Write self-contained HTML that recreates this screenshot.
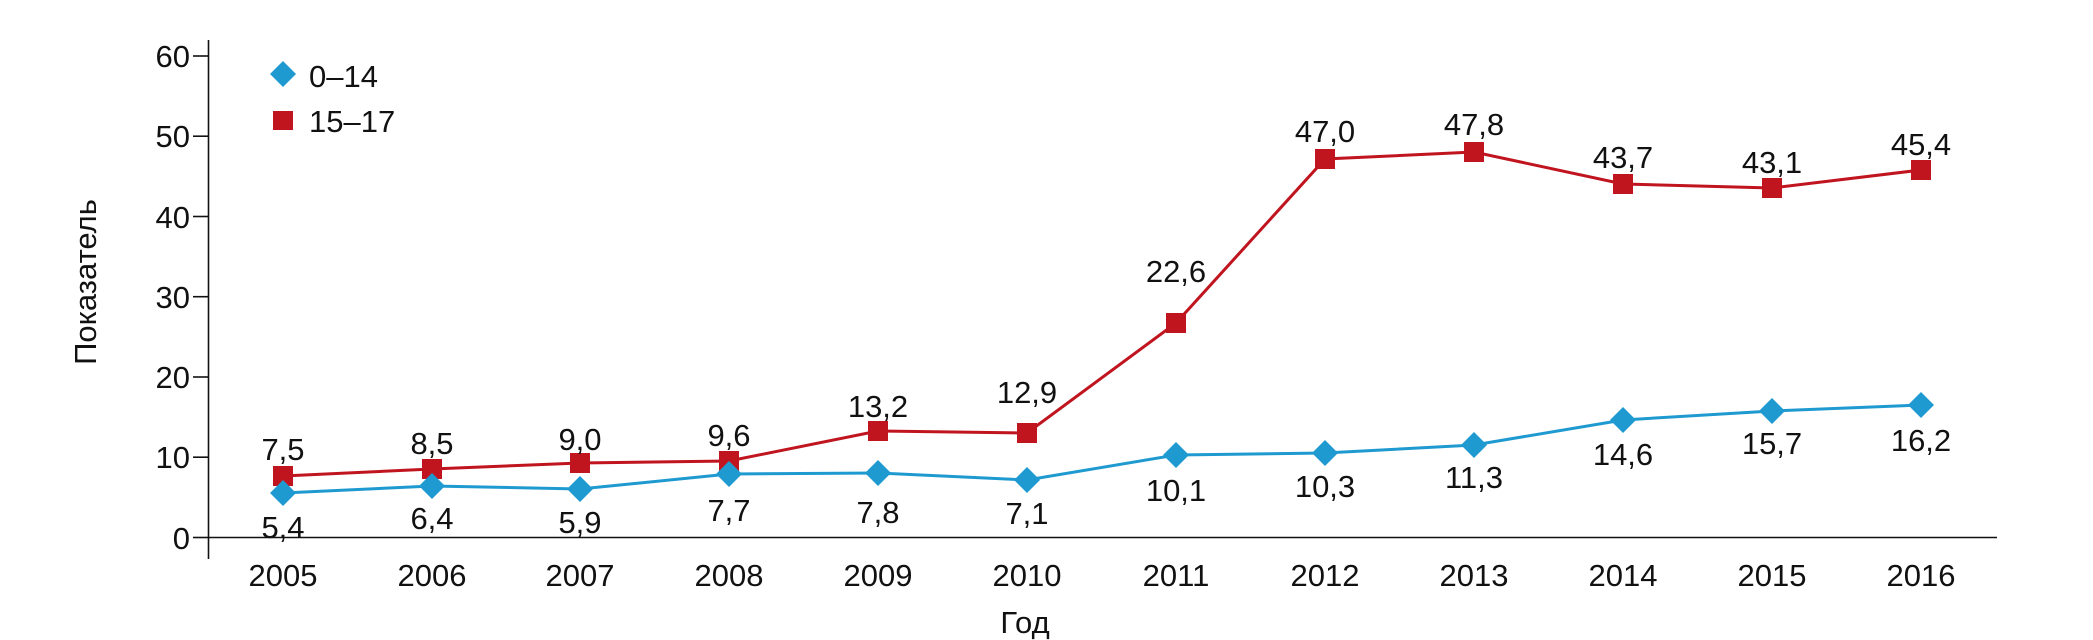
<!DOCTYPE html>
<html><head><meta charset="utf-8"><style>body{margin:0;background:#fff}svg{display:block}text{font-family:"Liberation Sans","DejaVu Sans",sans-serif;fill:#111}</style></head><body>
<svg width="2093" height="640" viewBox="0 0 2093 640" xmlns="http://www.w3.org/2000/svg">
<g stroke="#111" stroke-width="1.6">
<line x1="208.5" y1="40" x2="208.5" y2="559"/>
<line x1="208" y1="537.5" x2="1997" y2="537.5"/>
<line x1="193" y1="56" x2="208" y2="56"/>
<line x1="193" y1="136.2" x2="208" y2="136.2"/>
<line x1="193" y1="216.5" x2="208" y2="216.5"/>
<line x1="193" y1="296.7" x2="208" y2="296.7"/>
<line x1="193" y1="377" x2="208" y2="377"/>
<line x1="193" y1="457.2" x2="208" y2="457.2"/>
<line x1="193" y1="537.5" x2="208" y2="537.5"/>
</g>
<g font-size="31" text-anchor="end">
<text x="190" y="67">60</text><text x="190" y="147">50</text><text x="190" y="228">40</text><text x="190" y="308">30</text><text x="190" y="388">20</text><text x="190" y="468">10</text><text x="190" y="549">0</text>
</g>
<text font-size="31" text-anchor="middle" transform="translate(96,282) rotate(-90)">Показатель</text>
<g font-size="31" text-anchor="middle">
<text x="283" y="586">2005</text><text x="432" y="586">2006</text><text x="580" y="586">2007</text><text x="729" y="586">2008</text><text x="878" y="586">2009</text><text x="1027" y="586">2010</text><text x="1176" y="586">2011</text><text x="1325" y="586">2012</text><text x="1474" y="586">2013</text><text x="1623" y="586">2014</text><text x="1772" y="586">2015</text><text x="1921" y="586">2016</text>
<text x="1025" y="633">Год</text>
</g>
<polyline fill="none" stroke="#c0141f" stroke-width="3" points="283,476 432,469 580,463 729,461 878,431 1027,433 1176,323 1325,159 1474,152 1623,184 1772,188 1921,170"/>
<polyline fill="none" stroke="#1e9ad0" stroke-width="3" points="283,493 432,486 580,489 729,474 878,473 1027,480 1176,455 1325,453 1474,445 1623,420 1772,411 1921,405"/>
<g fill="#c0141f">
<rect x="273" y="466" width="20" height="20"/><rect x="422" y="459" width="20" height="20"/><rect x="570" y="453" width="20" height="20"/><rect x="719" y="451" width="20" height="20"/><rect x="868" y="421" width="20" height="20"/><rect x="1017" y="423" width="20" height="20"/><rect x="1166" y="313" width="20" height="20"/><rect x="1315" y="149" width="20" height="20"/><rect x="1464" y="142" width="20" height="20"/><rect x="1613" y="174" width="20" height="20"/><rect x="1762" y="178" width="20" height="20"/><rect x="1911" y="160" width="20" height="20"/>
<rect x="273" y="111" width="20" height="19"/>
</g>
<g fill="#1e9ad0">
<path d="M0,-13 L13,0 L0,13 L-13,0Z" transform="translate(283,493)"/>
<path d="M0,-13 L13,0 L0,13 L-13,0Z" transform="translate(432,486)"/>
<path d="M0,-13 L13,0 L0,13 L-13,0Z" transform="translate(580,489)"/>
<path d="M0,-13 L13,0 L0,13 L-13,0Z" transform="translate(729,474)"/>
<path d="M0,-13 L13,0 L0,13 L-13,0Z" transform="translate(878,473)"/>
<path d="M0,-13 L13,0 L0,13 L-13,0Z" transform="translate(1027,480)"/>
<path d="M0,-13 L13,0 L0,13 L-13,0Z" transform="translate(1176,455)"/>
<path d="M0,-13 L13,0 L0,13 L-13,0Z" transform="translate(1325,453)"/>
<path d="M0,-13 L13,0 L0,13 L-13,0Z" transform="translate(1474,445)"/>
<path d="M0,-13 L13,0 L0,13 L-13,0Z" transform="translate(1623,420)"/>
<path d="M0,-13 L13,0 L0,13 L-13,0Z" transform="translate(1772,411)"/>
<path d="M0,-13 L13,0 L0,13 L-13,0Z" transform="translate(1921,405)"/>
<path d="M0,-13 L13,0 L0,13 L-13,0Z" transform="translate(283,74)"/>
</g>
<text x="309" y="87" font-size="31">0–14</text>
<text x="309" y="132" font-size="31">15–17</text>
<g font-size="31" text-anchor="middle">
<text x="283" y="460">7,5</text><text x="432" y="454">8,5</text><text x="580" y="450">9,0</text><text x="729" y="446">9,6</text><text x="878" y="417">13,2</text><text x="1027" y="403">12,9</text><text x="1176" y="282">22,6</text><text x="1325" y="142">47,0</text><text x="1474" y="135">47,8</text><text x="1623" y="168">43,7</text><text x="1772" y="173">43,1</text><text x="1921" y="155">45,4</text>
<text x="283" y="538">5,4</text><text x="432" y="529">6,4</text><text x="580" y="533">5,9</text><text x="729" y="521">7,7</text><text x="878" y="523">7,8</text><text x="1027" y="524">7,1</text><text x="1176" y="501">10,1</text><text x="1325" y="497">10,3</text><text x="1474" y="488">11,3</text><text x="1623" y="465">14,6</text><text x="1772" y="454">15,7</text><text x="1921" y="451">16,2</text>
</g>
</svg>
</body></html>
